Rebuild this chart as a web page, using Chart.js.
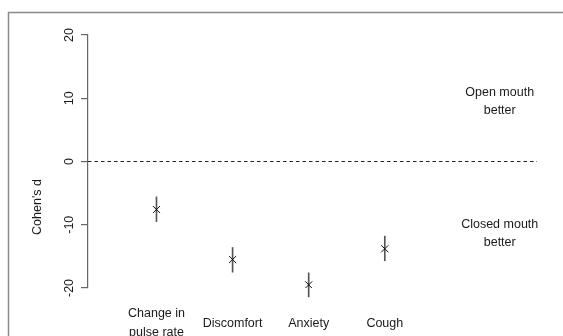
<!DOCTYPE html>
<html>
<head>
<meta charset="utf-8">
<script src="https://cdn.jsdelivr.net/npm/chart.js@4/dist/chart.umd.min.js"></script>
<style>
  html,body{margin:0;padding:0;background:#fff;}
  #wrap{width:563px;height:336px;position:relative;}
</style>
</head>
<body>
<div id="wrap"><canvas id="chart" width="563" height="336"></canvas></div>
<script>
// ── Cohen's d per outcome, open vs closed mouth ──
const categories = [['Change in','pulse rate'],'Discomfort','Anxiety','Cough'];
const catX   = [1,2,3,4];
const effect = [-7.6,-15.5,-19.5,-13.8];
const lower  = [-9.5,-17.5,-21.4,-15.7];
const upper  = [-5.6,-13.6,-17.6,-11.8];
const yTicks = [-20,-10,0,10,20];
const zeroLine = [0.1,6.0];   // x range of the dashed reference line

const FONT = "'Liberation Sans', Arial, Helvetica, sans-serif";
Chart.defaults.font.family = FONT;
Chart.defaults.font.size = 12.5;
Chart.defaults.color = '#1a1a1a';

// frame + free text (region labels, axis title)
const extras = {
  id:'extras',
  beforeDraw(chart){
    const c = chart.ctx;
    c.save();
    c.strokeStyle = '#8a8a8a';
    c.lineWidth = 1.5;
    c.beginPath();
    c.moveTo(8.5, 340); c.lineTo(8.5, 12.5); c.lineTo(570, 12.5);
    c.stroke();
    c.restore();
  },
  afterDatasetsDraw(chart){
    const c = chart.ctx, xs = chart.scales.x, ys = chart.scales.y;
    c.save();
    c.fillStyle = '#1a1a1a';
    c.font = '12.5px ' + FONT;
    c.textAlign = 'center';
    c.textBaseline = 'middle';
    const px = xs.getPixelForValue(5.51);
    const yo = ys.getPixelForValue(9.4), yc = ys.getPixelForValue(-11.4);
    c.fillText('Open mouth', px, yo - 9);
    c.fillText('better', px, yo + 9);
    c.fillText('Closed mouth', px, yc - 9);
    c.fillText('better', px, yc + 9);
    // y title
    c.translate(38, 207);
    c.rotate(-Math.PI/2);
    c.fillText("Cohen's d", 0, 0);
    c.restore();
  }
};

new Chart(document.getElementById('chart').getContext('2d'), {
  type:'scatter',
  data:{
    datasets:[
      {type:'scatter', label:'d', order:0,
       data: catX.map((x,i)=>({x, y:effect[i]})),
       pointStyle:'crossRot', radius:5, borderColor:'#111', borderWidth:1, backgroundColor:'#111'},
      {type:'bar', label:'CI', order:1, clip:false,
       data: catX.map((x,i)=>({x, y:[lower[i], upper[i]]})),
       backgroundColor:'#555', borderWidth:0, barThickness:1},
      {type:'line', label:'zero', order:2,
       data: zeroLine.map(x=>({x, y:0})),
       borderColor:'#222', borderWidth:1.1, borderDash:[3.5,3], pointRadius:0, fill:false},
    ]
  },
  options:{
    responsive:false, animation:false,
    layout:{padding:{left:8, right:26, top:35, bottom:0}},
    plugins:{legend:{display:false}, tooltip:{enabled:false}},
    scales:{
      x:{
        type:'linear', min:0.1, max:6.0, offset:false,
        grid:{display:false, offset:false}, border:{display:false},
        afterBuildTicks(s){ s.ticks = catX.map(v=>({value:v})); },
        afterFit(s){ s.height = 48; },
        ticks:{
          padding:18, crossAlign:'center', maxRotation:0, minRotation:0,
          font:{size:12.5, lineHeight:1.52}, color:'#1a1a1a',
          callback:(v)=>categories[catX.indexOf(v)] ?? ''
        }
      },
      y:{
        type:'linear', min:-20, max:20,
        afterBuildTicks(s){ s.ticks = yTicks.map(v=>({value:v})); },
        afterFit(s){ s.width = 80; },
        grid:{drawOnChartArea:false, tickLength:7, color:'#666', lineWidth:1.2},
        border:{display:true, color:'#666', width:1.2},
        ticks:{
          padding:2, crossAlign:'center', minRotation:90, maxRotation:90,
          font:{size:12.5}, color:'#1a1a1a'
        }
      }
    }
  },
  plugins:[extras]
});
</script>
</body>
</html>
